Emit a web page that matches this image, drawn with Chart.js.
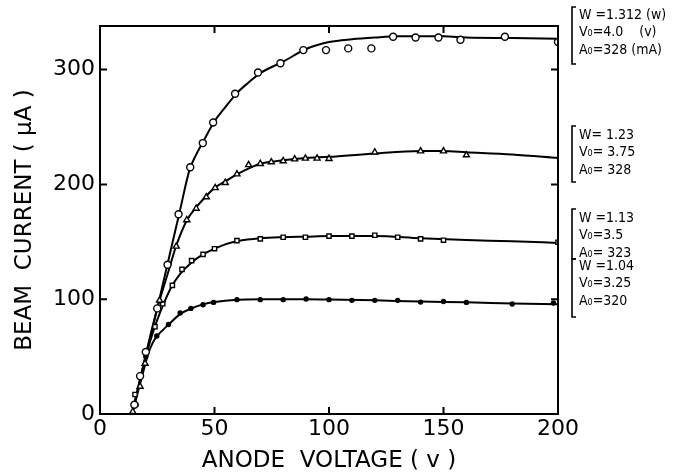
<!DOCTYPE html>
<html><head><meta charset="utf-8">
<script src="https://cdn.jsdelivr.net/npm/chart.js@4"></script>
<style>html,body{margin:0;padding:0;background:#fff}#wrap{width:673px;height:475px;position:relative}</style>
</head><body><div id="wrap"><canvas id="c" width="673" height="475"></canvas></div>
<script>
// Axis ticks
const xTickValues = [0, 50, 100, 150, 200];
const yTickValues = [0, 100, 200, 300];

// Series 1: W=1.312 (open circles)
const s1PointV = [15, 17.5, 20, 25, 29.5, 34.3, 39.4, 44.9, 49.4, 59, 69, 78.8, 88.8, 98.7, 108.4, 118.5, 128, 137.8, 147.8, 157.4, 176.8, 200];
const s1PointI = [8, 33, 54, 92, 130, 174, 215, 236, 254, 279, 297.5, 305.5, 317, 317, 318.5, 318.5, 328.7, 328, 328, 326, 328.7, 324];
const s1CurveV = [14, 20, 25, 30, 35, 39, 42, 45, 50, 55, 60, 65, 70, 80, 90, 100, 110, 120, 130, 150, 160, 180, 200];
const s1CurveI = [0, 50, 92, 135, 178, 212, 226, 237, 255, 268, 280, 289, 297, 307, 318, 324, 326.5, 328, 329, 329, 328, 327.5, 327];

// Series 2: W=1.23 (open triangles)
const s2PointV = [14.3, 17.5, 19.7, 26, 33.3, 37.9, 42, 46.4, 50.3, 54.7, 59.8, 64.9, 70, 74.8, 80, 85, 89.7, 94.8, 100, 120, 140, 150, 160];
const s2PointI = [2, 24, 44, 99, 146, 169, 179, 189, 197, 201.5, 209, 217, 218, 219.5, 220.4, 222, 222.7, 222.7, 222.4, 228, 229, 229, 225.6];
const s2CurveV = [14, 20, 25, 30, 33, 38, 42, 46, 50, 55, 60, 65, 70, 80, 90, 100, 120, 140, 150, 160, 180, 200];
const s2CurveI = [0, 52, 92, 125, 145, 169, 180, 189, 197, 203, 209, 214, 218, 221, 223, 224, 227, 229, 229, 228, 226, 223];

// Series 3: W=1.13 (open squares)
const s3PointV = [15.3, 24, 27.4, 31.6, 35.8, 40, 45, 50, 59.8, 70, 80, 89.7, 100, 110, 120, 130, 140, 150, 200];
const s3PointI = [17, 76, 96, 112, 126, 133.6, 139, 144, 151, 152.6, 154, 154, 155, 155, 155.7, 154, 152.6, 151.4, 149.6];
const s3CurveV = [14, 20, 22, 25, 28, 31, 35, 40, 45, 50, 55, 60, 70, 80, 90, 100, 120, 140, 160, 180, 200];
const s3CurveI = [0, 50, 64, 82, 97, 110, 122, 132, 139, 144, 148, 150.5, 153, 154, 154.5, 155, 155, 153, 151.5, 150.5, 149];

// Series 4: W=1.04 (filled dots)
const s4PointV = [15.8, 20, 24.8, 29.9, 35, 39.7, 45, 49.6, 59.8, 70, 80, 90, 100, 110, 120, 130, 140, 150, 160, 180, 198];
const s4PointI = [8, 50, 68, 78, 88, 92, 95.2, 97.2, 99.6, 99.6, 99.6, 100.2, 99.6, 99, 99, 99, 97.5, 98, 97.2, 95.8, 96.7];
const s4CurveV = [14, 18, 21, 23, 25, 30, 35, 40, 45, 50, 60, 70, 80, 90, 100, 120, 140, 160, 180, 200];
const s4CurveI = [0, 30, 52, 62, 68, 78, 87, 92, 95.5, 97.5, 99.5, 100, 100, 100, 99.8, 99, 98, 97.3, 96.3, 95.5];

// Parameter labels
const paramLabels = [
  ["W =1.312 (w)", "V\u2080=4.0    (v)", "A\u2080=328 (mA)"],
  ["W= 1.23", "V\u2080= 3.75", "A\u2080= 328"],
  ["W =1.13", "V\u2080=3.5", "A\u2080= 323"],
  ["W =1.04", "V\u2080=3.25", "A\u2080=320"]
];

const pairs = (xs, ys) => xs.map((x, i) => ({x: x, y: ys[i]}));

function curve(xs, ys) {
  return {data: pairs(xs, ys), showLine: true, borderColor: '#000', borderWidth: 2,
    pointRadius: 0, cubicInterpolationMode: 'monotone', fill: false, order: 2};
}
function marks(xs, ys, style, r, fill) {
  return {data: pairs(xs, ys), showLine: false, pointStyle: style, pointRadius: r,
    pointBackgroundColor: fill, pointBorderColor: '#000', pointBorderWidth: 1.4, order: 1};
}

const framePlugin = {
  id: 'frame',
  afterDatasetsDraw(chart) {
    const {ctx, chartArea: a, scales: {x, y}} = chart;
    ctx.save();
    ctx.strokeStyle = '#000';
    ctx.lineWidth = 2;
    ctx.strokeRect(a.left, a.top, a.right - a.left, a.bottom - a.top);
    ctx.beginPath();
    xTickValues.forEach(v => {
      if (v === 0 || v === 200) return;
      const px = x.getPixelForValue(v);
      ctx.moveTo(px, a.bottom); ctx.lineTo(px, a.bottom - 7);
      ctx.moveTo(px, a.top); ctx.lineTo(px, a.top + 7);
    });
    yTickValues.forEach(v => {
      if (v === 0) return;
      const py = y.getPixelForValue(v);
      ctx.moveTo(a.left, py); ctx.lineTo(a.left + 7, py);
      ctx.moveTo(a.right, py); ctx.lineTo(a.right - 7, py);
    });
    ctx.stroke();
    ctx.restore();
  }
};

const labelPlugin = {
  id: 'paramLabels',
  afterDraw(chart) {
    const ctx = chart.ctx;
    const boxTops = [7, 126, 209, 259];
    const boxHeights = [57, 56, 50, 58];
    const lineStart = [8, 9, 9, 7];
    ctx.save();
    ctx.fillStyle = '#000';
    ctx.strokeStyle = '#000';
    ctx.font = '14px "DejaVu Sans Condensed", "DejaVu Sans"';
    ctx.textBaseline = 'middle';
    ctx.textAlign = 'left';
    paramLabels.forEach((lines, k) => {
      const top = boxTops[k];
      const bottom = top + boxHeights[k];
      ctx.lineWidth = 1.6;
      ctx.beginPath();
      ctx.moveTo(576, top); ctx.lineTo(572, top); ctx.lineTo(572, bottom); ctx.lineTo(576, bottom);
      ctx.stroke();
      lines.forEach((t, j) => ctx.fillText(t, 579, top + lineStart[k] + j * 17.5));
    });
    ctx.restore();
  }
};

const tickFont = {family: '"DejaVu Sans"', size: 22};
const titleFont = {family: '"DejaVu Sans"', size: 23};
new Chart(document.getElementById('c'), {
  type: 'scatter',
  data: {
    datasets: [
      curve(s1CurveV, s1CurveI),
      curve(s2CurveV, s2CurveI),
      curve(s3CurveV, s3CurveI),
      curve(s4CurveV, s4CurveI),
      marks(s1PointV, s1PointI, 'circle', 3.5, '#fff'),
      marks(s2PointV, s2PointI, 'triangle', 3.5, '#fff'),
      marks(s3PointV, s3PointI, 'rect', 3, '#fff'),
      marks(s4PointV, s4PointI, 'circle', 2, '#000')
    ]
  },
  options: {
    responsive: false, animation: false, devicePixelRatio: 1,
    layout: {padding: {top: 26, right: 115, left: 0, bottom: 0}},
    plugins: {legend: {display: false}, tooltip: {enabled: false}},
    scales: {
      x: {
        type: 'linear', min: 0, max: 200,
        afterFit: s => { s.height = 61; },
        afterBuildTicks: s => { s.ticks = xTickValues.map(v => ({value: v})); },
        grid: {display: true, drawOnChartArea: false, drawTicks: false},
        border: {display: false},
        ticks: {color: '#000', font: tickFont, padding: 2, maxRotation: 0},
        title: {display: true, text: 'ANODE  VOLTAGE ( v )', color: '#000',
          font: titleFont, padding: {top: 0, bottom: 0}}
      },
      y: {
        type: 'linear', min: 0, max: 338,
        afterFit: s => { s.width = 100; },
        afterBuildTicks: s => { s.ticks = yTickValues.map(v => ({value: v})); },
        grid: {display: true, drawOnChartArea: false, drawTicks: false},
        border: {display: false},
        ticks: {color: '#000', font: tickFont, padding: 5},
        title: {display: true, text: 'BEAM  CURRENT ( \u00b5A )', color: '#000',
          font: titleFont, padding: {top: 11, bottom: 0}}
      }
    }
  },
  plugins: [framePlugin, labelPlugin]
});
</script>
</body></html>
